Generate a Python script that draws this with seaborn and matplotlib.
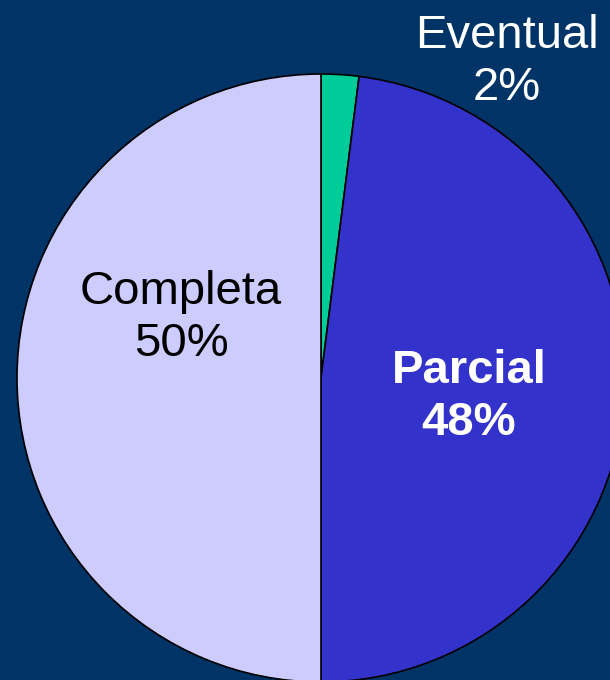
import matplotlib.pyplot as plt
import seaborn as sns

# slices, clockwise from the top
labels = ["Eventual", "Parcial", "Completa"]
shares = [2, 48, 50]
colors = ["#00CC99", "#3333CC", "#CCCCFF"]
text_colors = ["white", "white", "black"]
weights = ["normal", "bold", "normal"]
# label centres in pixels of the 610x680 image
label_px = [(507, 62), (469, 397), (181, 318)]

sns.set_theme(style="white", rc={"figure.facecolor": "#003366",
                                 "axes.facecolor": "#003366"})
plt.rcParams["font.family"] = ["Liberation Sans", "DejaVu Sans"]

W, H = 610, 680
cx, cy, r = 321, 378, 304  # pie centre and radius in pixels

fig = plt.figure(figsize=(W / 100, H / 100), dpi=100)
ax = fig.add_axes([0, 0, 1, 1])
ax.pie(shares, colors=colors, startangle=90, counterclock=False,
       wedgeprops={"edgecolor": "black", "linewidth": 1.2})
ax.set_aspect("auto")
ax.set_xlim(-cx / r, (W - cx) / r)
ax.set_ylim(-(H - cy) / r, cy / r)
ax.axis("off")

for name, val, (px, py), tc, fw in zip(labels, shares, label_px, text_colors, weights):
    ax.text((px - cx) / r, (cy - py) / r, f"{name}\n{val}%", ha="center", va="center",
            fontsize=34, color=tc, fontweight=fw, linespacing=1.22)

fig.savefig("out.png", dpi=100, facecolor=fig.get_facecolor())
